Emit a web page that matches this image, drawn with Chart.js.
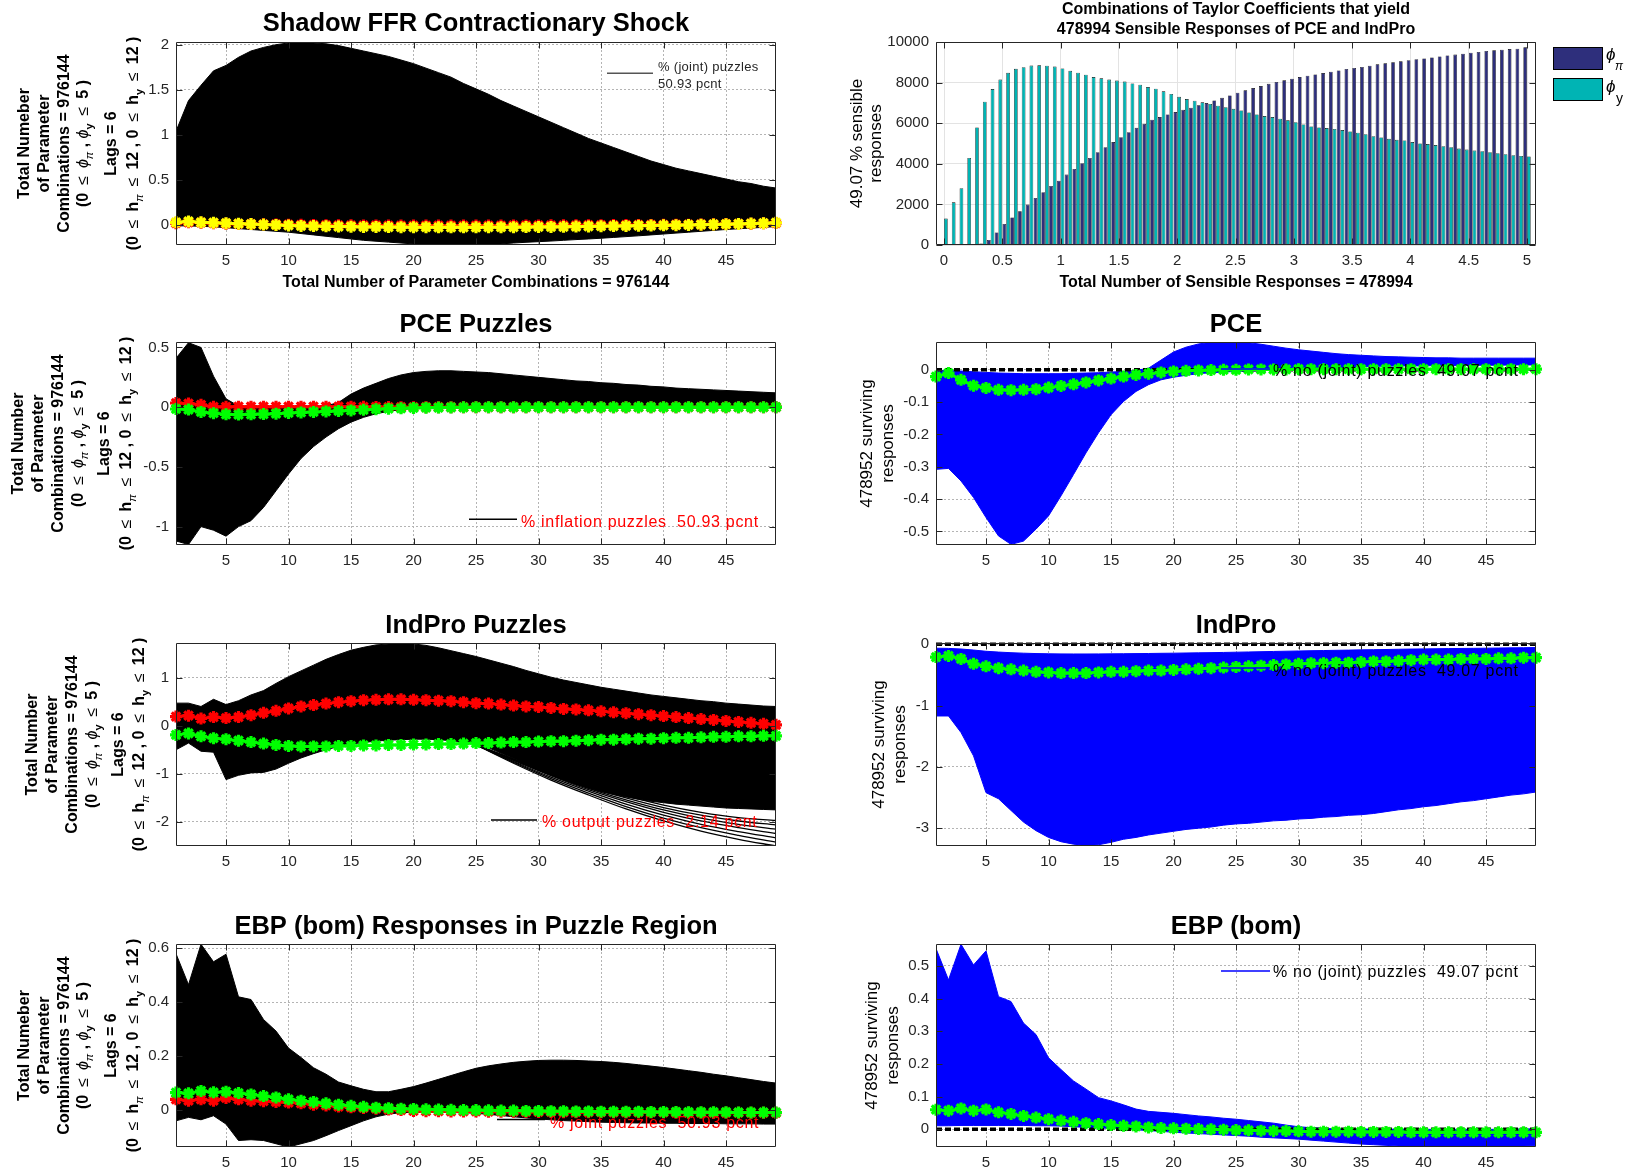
<!DOCTYPE html>
<html>
<head>
<meta charset="utf-8">
<script src="https://cdn.jsdelivr.net/npm/chart.js@4.4.1/dist/chart.umd.min.js"></script>
<style>
  html, body { margin: 0; padding: 0; background: #fff; }
  body { width: 1627px; height: 1176px; position: relative; overflow: hidden; }
  canvas { position: absolute; }
</style>
</head>
<body>
<script>
// ---------- horizons and tick labels ----------
const horizon = Array.from({ length: 49 }, (_, i) => i + 1);
const horizonTicks = [5, 10, 15, 20, 25, 30, 35, 40, 45];
const phiGrid = Array.from({ length: 76 }, (_, i) => i / 15);
const phiTicks = [0, 0.5, 1, 1.5, 2, 2.5, 3, 3.5, 4, 4.5, 5];

// ---------- Shadow FFR contractionary shock ----------
const ffrUpper = [1.04,1.38,1.55,1.71,1.77,1.86,1.93,1.97,2.00,2.02,2.03,2.02,2.01,1.99,1.96,1.93,1.90,1.87,1.83,1.79,1.74,1.69,1.64,1.57,1.51,1.45,1.38,1.32,1.26,1.20,1.14,1.08,1.02,0.96,0.91,0.86,0.81,0.76,0.71,0.67,0.63,0.60,0.57,0.54,0.51,0.48,0.46,0.43,0.41];
const ffrLower = [-0.01,-0.01,-0.015,-0.02,-0.03,-0.04,-0.05,-0.06,-0.07,-0.08,-0.095,-0.11,-0.125,-0.14,-0.155,-0.17,-0.18,-0.19,-0.2,-0.21,-0.215,-0.22,-0.222,-0.222,-0.22,-0.215,-0.21,-0.2,-0.192,-0.185,-0.178,-0.17,-0.162,-0.155,-0.147,-0.138,-0.129,-0.12,-0.11,-0.1,-0.09,-0.08,-0.07,-0.06,-0.05,-0.042,-0.034,-0.026,-0.018];
const ffrRed = [0.02,0.03,0.025,0.02,0.015,0.012,0.01,0.008,0.006,0.004,0.002,0,-0.002,-0.003,-0.004,-0.005,-0.005,-0.006,-0.006,-0.006,-0.006,-0.006,-0.006,-0.006,-0.006,-0.006,-0.006,-0.005,-0.005,-0.005,-0.004,-0.004,-0.003,-0.002,-0.002,-0.001,0,0,0.001,0.002,0.003,0.004,0.006,0.008,0.01,0.012,0.015,0.018,0.022];
const ffrYellow = [0.03,0.04,0.03,0.025,0.02,0.015,0.01,0.005,0,-0.005,-0.01,-0.012,-0.015,-0.017,-0.019,-0.021,-0.022,-0.023,-0.024,-0.025,-0.025,-0.026,-0.026,-0.026,-0.026,-0.025,-0.025,-0.024,-0.023,-0.022,-0.021,-0.02,-0.018,-0.016,-0.014,-0.012,-0.01,-0.008,-0.006,-0.004,-0.002,0,0.003,0.006,0.009,0.012,0.016,0.02,0.025];
const ffrYTicks = [0, 0.5, 1, 1.5, 2];

// ---------- PCE responses in the puzzle region ----------
const pcePzUpper = [0.41,0.54,0.50,0.26,0.07,0.01,0.005,0.005,0.005,0.005,0.005,0.005,0.01,0.04,0.11,0.16,0.20,0.24,0.27,0.29,0.30,0.305,0.305,0.30,0.295,0.29,0.28,0.27,0.26,0.25,0.24,0.23,0.22,0.215,0.205,0.2,0.19,0.185,0.175,0.17,0.16,0.155,0.15,0.145,0.14,0.135,0.13,0.125,0.12];
const pcePzLower = [-1.12,-1.15,-1.0,-1.03,-1.08,-1.0,-0.95,-0.84,-0.70,-0.56,-0.43,-0.33,-0.25,-0.18,-0.125,-0.085,-0.055,-0.035,-0.02,-0.01,-0.008,-0.007,-0.007,-0.006,-0.006,-0.006,-0.006,-0.005,-0.005,-0.005,-0.005,-0.005,-0.005,-0.005,-0.005,-0.005,-0.005,-0.005,-0.005,-0.005,-0.005,-0.005,-0.005,-0.005,-0.005,-0.005,-0.005,-0.005,-0.005];
const pcePzRed = [0.035,0.03,0.02,0.003,0.003,0.004,0.004,0.004,0.004,0.004,0.004,0.004,0.004,0.004,0.004,0.003,0.002,0.001,0,0,0,0,0,0,0,0,0,0,0,0,0,0,0,0,0,0,0,0,0,0,0,0,0,0,0,0,0,0,0];
const pcePzGreen = [-0.015,-0.02,-0.04,-0.05,-0.06,-0.062,-0.06,-0.058,-0.054,-0.048,-0.044,-0.04,-0.035,-0.031,-0.027,-0.022,-0.017,-0.012,-0.009,-0.006,-0.004,-0.003,-0.002,-0.001,0,0,0,0,0,0,0,0,0,0,0,0,0,0,0,0,0,0,0,0,0,0,0,0,0];
const pcePzYTicks = [-1, -0.5, 0, 0.5];

// ---------- IndPro responses in the puzzle region ----------
const ipPzUpper = [0.47,0.47,0.40,0.55,0.44,0.52,0.64,0.73,0.88,1.02,1.14,1.26,1.38,1.48,1.57,1.63,1.68,1.70,1.71,1.70,1.67,1.62,1.56,1.50,1.44,1.37,1.30,1.23,1.15,1.08,1.01,0.95,0.90,0.85,0.80,0.76,0.72,0.68,0.64,0.61,0.58,0.55,0.52,0.50,0.47,0.45,0.43,0.41,0.40];
const ipPzLower = [-0.50,-0.36,-0.53,-0.55,-1.12,-1.03,-0.98,-0.97,-0.90,-0.78,-0.67,-0.58,-0.50,-0.43,-0.38,-0.35,-0.32,-0.30,-0.29,-0.28,-0.28,-0.29,-0.31,-0.34,-0.38,-0.46,-0.57,-0.68,-0.80,-0.92,-1.03,-1.13,-1.22,-1.30,-1.37,-1.43,-1.48,-1.53,-1.57,-1.60,-1.63,-1.65,-1.67,-1.69,-1.71,-1.72,-1.73,-1.74,-1.75];
const ipFanX = [25, 28, 31, 34, 37, 40, 43, 46, 49];
const ipFan1 = [-0.40,-0.78,-1.13,-1.44,-1.73,-1.98,-2.19,-2.36,-2.50];
const ipFan2 = [-0.40,-0.76,-1.10,-1.40,-1.68,-1.92,-2.12,-2.28,-2.42];
const ipFan3 = [-0.40,-0.74,-1.07,-1.36,-1.63,-1.86,-2.05,-2.20,-2.33];
const ipFan4 = [-0.40,-0.72,-1.04,-1.33,-1.58,-1.80,-1.98,-2.12,-2.24];
const ipFan5 = [-0.40,-0.71,-1.02,-1.30,-1.54,-1.75,-1.92,-2.05,-2.15];
const ipFan6 = [-0.39,-0.70,-1.00,-1.27,-1.50,-1.70,-1.86,-1.98,-2.06];
const ipFan7 = [-0.39,-0.69,-0.98,-1.24,-1.46,-1.65,-1.80,-1.91,-1.97];
const ipPzRed = [0.19,0.21,0.15,0.18,0.16,0.18,0.22,0.27,0.31,0.36,0.40,0.43,0.46,0.49,0.51,0.53,0.54,0.55,0.55,0.54,0.53,0.52,0.51,0.49,0.47,0.46,0.44,0.42,0.40,0.39,0.37,0.35,0.34,0.32,0.30,0.28,0.26,0.24,0.22,0.20,0.18,0.16,0.14,0.12,0.10,0.08,0.06,0.04,0.02];
const ipPzGreen = [-0.19,-0.16,-0.22,-0.26,-0.28,-0.31,-0.34,-0.37,-0.40,-0.42,-0.43,-0.43,-0.43,-0.42,-0.42,-0.41,-0.41,-0.40,-0.40,-0.39,-0.39,-0.38,-0.38,-0.37,-0.36,-0.36,-0.35,-0.34,-0.34,-0.33,-0.32,-0.32,-0.31,-0.30,-0.29,-0.29,-0.28,-0.27,-0.27,-0.26,-0.25,-0.25,-0.24,-0.23,-0.23,-0.22,-0.22,-0.21,-0.21];
const ipPzYTicks = [-2, -1, 0, 1];

// ---------- EBP (bom) responses in the puzzle region ----------
const ebpPzUpper = [0.58,0.465,0.615,0.55,0.578,0.42,0.41,0.336,0.293,0.23,0.195,0.157,0.133,0.104,0.09,0.077,0.068,0.068,0.077,0.087,0.10,0.114,0.128,0.142,0.155,0.164,0.171,0.177,0.181,0.184,0.185,0.185,0.184,0.182,0.18,0.177,0.173,0.168,0.163,0.158,0.152,0.146,0.14,0.133,0.127,0.12,0.113,0.106,0.10];
const ebpPzLower = [-0.04,-0.027,-0.036,-0.021,-0.052,-0.113,-0.11,-0.113,-0.125,-0.137,-0.125,-0.113,-0.095,-0.076,-0.058,-0.04,-0.025,-0.015,-0.01,-0.008,-0.008,-0.008,-0.009,-0.01,-0.012,-0.016,-0.02,-0.025,-0.029,-0.033,-0.036,-0.039,-0.041,-0.043,-0.045,-0.046,-0.047,-0.048,-0.048,-0.049,-0.049,-0.05,-0.05,-0.05,-0.051,-0.051,-0.051,-0.052,-0.052];
const ebpPzRed = [0.04,0.035,0.04,0.035,0.045,0.04,0.035,0.033,0.03,0.028,0.025,0.02,0.017,0.013,0.01,0.008,0.005,0.002,0,-0.003,-0.004,-0.004,-0.005,-0.005,-0.005,-0.006,-0.006,-0.006,-0.007,-0.007,-0.007,-0.008,-0.008,-0.008,-0.008,-0.009,-0.009,-0.009,-0.009,-0.009,-0.01,-0.01,-0.01,-0.01,-0.01,-0.01,-0.01,-0.01,-0.01];
const ebpPzGreen = [0.065,0.062,0.071,0.066,0.068,0.063,0.058,0.052,0.047,0.04,0.035,0.03,0.025,0.02,0.016,0.012,0.009,0.007,0.005,0.004,0.003,0.002,0.001,0,0,-0.001,-0.002,-0.002,-0.003,-0.003,-0.004,-0.004,-0.005,-0.005,-0.006,-0.006,-0.006,-0.006,-0.007,-0.007,-0.007,-0.008,-0.008,-0.008,-0.008,-0.009,-0.009,-0.009,-0.009];
const ebpPzYTicks = [0, 0.2, 0.4, 0.6];

// ---------- Taylor coefficient counts ----------
const countPhiPi = [0,0,0,0,0,80,250,620,1040,1360,1660,1990,2320,2600,2910,3170,3470,3750,4030,4290,4570,4820,5070,5310,5560,5770,5970,6170,6300,6430,6550,6660,6760,6880,6990,7120,7250,7370,7500,7620,7730,7830,7940,8030,8110,8190,8270,8340,8400,8470,8540,8600,8670,8720,8770,8830,8900,8950,9000,9050,9100,9150,9190,9240,9290,9340,9380,9420,9470,9510,9560,9590,9620,9650,9670,9740];
const countPhiY = [1300,2100,2800,4290,5790,7060,7680,8150,8480,8680,8760,8840,8850,8830,8790,8700,8580,8490,8390,8270,8210,8150,8100,8050,7960,7900,7780,7700,7570,7440,7300,7190,7110,7030,6950,6860,6790,6710,6630,6530,6430,6350,6300,6220,6140,6050,5940,5840,5790,5760,5720,5660,5590,5530,5460,5360,5300,5230,5180,5150,5070,5000,4970,4920,4870,4820,4750,4700,4650,4620,4570,4520,4470,4420,4390,4360];
const countYTicks = [0, 2000, 4000, 6000, 8000, 10000];

// ---------- surviving (sensible) responses ----------
const pceUpper = [-0.002,-0.002,-0.004,-0.006,-0.008,-0.01,-0.011,-0.012,-0.012,-0.012,-0.012,-0.011,-0.01,-0.009,-0.007,-0.005,-0.002,0.005,0.03,0.055,0.07,0.08,0.085,0.087,0.087,0.084,0.079,0.073,0.067,0.062,0.058,0.054,0.05,0.047,0.045,0.043,0.041,0.04,0.039,0.038,0.037,0.037,0.036,0.036,0.036,0.036,0.036,0.036,0.036];
const pceLower = [-0.308,-0.305,-0.344,-0.395,-0.457,-0.514,-0.54,-0.53,-0.493,-0.452,-0.39,-0.324,-0.257,-0.195,-0.139,-0.098,-0.067,-0.046,-0.031,-0.023,-0.017,-0.012,-0.009,-0.007,-0.005,-0.004,-0.002,-0.001,0.001,0.002,0.003,0.005,0.006,0.008,0.01,0.011,0.011,0.012,0.012,0.012,0.013,0.013,0.013,0.014,0.014,0.014,0.015,0.015,0.015];
const pceGreen = [-0.021,-0.01,-0.031,-0.049,-0.056,-0.062,-0.063,-0.062,-0.06,-0.055,-0.05,-0.045,-0.039,-0.033,-0.027,-0.021,-0.016,-0.012,-0.008,-0.005,-0.003,-0.002,-0.001,0,0,0.001,0.001,0.001,0.001,0.002,0.002,0.002,0.002,0.002,0.002,0.002,0.002,0.002,0.002,0.002,0.002,0.002,0.002,0.002,0.002,0.002,0.002,0.002,0.002];
const pceYTicks = [-0.5, -0.4, -0.3, -0.2, -0.1, 0];

const ipUpper = [-0.065,-0.068,-0.078,-0.095,-0.115,-0.128,-0.138,-0.146,-0.152,-0.156,-0.158,-0.159,-0.159,-0.158,-0.157,-0.155,-0.153,-0.151,-0.148,-0.146,-0.143,-0.14,-0.137,-0.134,-0.13,-0.126,-0.122,-0.118,-0.114,-0.11,-0.106,-0.103,-0.099,-0.096,-0.092,-0.089,-0.086,-0.082,-0.079,-0.076,-0.074,-0.071,-0.069,-0.067,-0.065,-0.062,-0.059,-0.057,-0.054];
const ipLower = [-1.17,-1.17,-1.44,-1.82,-2.42,-2.52,-2.71,-2.90,-3.04,-3.15,-3.22,-3.26,-3.28,-3.27,-3.23,-3.18,-3.15,-3.11,-3.08,-3.05,-3.02,-3.0,-2.98,-2.95,-2.93,-2.92,-2.9,-2.88,-2.87,-2.85,-2.84,-2.82,-2.81,-2.79,-2.78,-2.76,-2.73,-2.7,-2.68,-2.65,-2.63,-2.6,-2.57,-2.55,-2.52,-2.49,-2.46,-2.44,-2.41];
const ipGreen = [-0.21,-0.19,-0.24,-0.32,-0.36,-0.39,-0.41,-0.43,-0.45,-0.46,-0.47,-0.47,-0.47,-0.46,-0.45,-0.45,-0.44,-0.43,-0.43,-0.42,-0.41,-0.4,-0.39,-0.38,-0.37,-0.36,-0.35,-0.34,-0.33,-0.32,-0.31,-0.31,-0.3,-0.3,-0.29,-0.28,-0.28,-0.27,-0.26,-0.25,-0.25,-0.25,-0.24,-0.24,-0.24,-0.23,-0.23,-0.22,-0.22];
const ipYTicks = [-3, -2, -1, 0];

const ebpUpper = [0.553,0.457,0.566,0.503,0.546,0.406,0.391,0.325,0.29,0.219,0.183,0.148,0.123,0.097,0.087,0.075,0.062,0.055,0.052,0.049,0.045,0.041,0.038,0.034,0.031,0.027,0.023,0.019,0.013,0.008,0.005,0.003,0.002,0.001,0.001,0.001,0.001,0,0,0,0,0,0,0,0,0,0.001,0.001,0.002];
const ebpLower = [0.011,0.011,0.012,0.012,0.012,0.012,0.012,0.012,0.011,0.011,0.01,0.008,0.006,0.004,0.003,0.001,-0.001,-0.004,-0.006,-0.009,-0.011,-0.013,-0.015,-0.017,-0.019,-0.021,-0.024,-0.026,-0.028,-0.03,-0.033,-0.036,-0.039,-0.042,-0.045,-0.047,-0.049,-0.051,-0.052,-0.053,-0.054,-0.054,-0.054,-0.054,-0.054,-0.053,-0.052,-0.051,-0.05];
const ebpGreen = [0.06,0.057,0.064,0.057,0.061,0.052,0.047,0.041,0.036,0.031,0.027,0.023,0.019,0.016,0.013,0.011,0.009,0.006,0.004,0.003,0.002,0.001,0,-0.001,-0.002,-0.003,-0.004,-0.005,-0.005,-0.006,-0.007,-0.007,-0.007,-0.007,-0.008,-0.008,-0.008,-0.008,-0.009,-0.009,-0.009,-0.009,-0.009,-0.009,-0.009,-0.009,-0.009,-0.009,-0.009];
const ebpYTicks = [0, 0.1, 0.2, 0.3, 0.4, 0.5];

const zeroLine = horizon.map(() => 0);

// ---------- labels ----------
const ylabNumeber = ['Total Numeber', 'of Parameter', 'Combinations = 976144', '(0 ≤ ϕ_{π} , ϕ_{y} ≤ 5 )', 'Lags = 6', '(0 ≤ h_{π} ≤ 12 , 0 ≤ h_{y} ≤ 12 )'];
const ylabNumber = ['Total Number', 'of Parameter', 'Combinations = 976144', '(0 ≤ ϕ_{π} , ϕ_{y} ≤ 5 )', 'Lags = 6', '(0 ≤ h_{π} ≤ 12 , 0 ≤ h_{y} ≤ 12 )'];
const ylabSurviving = ['478952 surviving', 'responses'];

// ---------- drawing helpers ----------
const FONT = "'Liberation Sans', Arial, Helvetica, sans-serif";
const TICK_FONT = { family: FONT, size: 15 };

function pts(xArr, yArr) { return yArr.map((y, i) => ({ x: xArr[i], y })); }

// split a label into runs: subscripts written as _{..}, relation signs get extra room
function segments(str, size, bold) {
  const out = [];
  const push = (t, sub) => {
    for (const ch of t) {
      const special = /[≤ϕπ]/.test(ch);
      const fs = sub ? Math.round(size * 0.68) : size;
      const style = (ch === 'ϕ' || ch === 'π') ? 'italic ' : '';
      const weight = special ? '400' : (bold ? '700' : '400');
      const font = `${style}${weight} ${fs}px ${FONT}`;
      const pad = ch === '≤' ? size * 0.22 : 0;
      const prev = out[out.length - 1];
      if (!pad && prev && !prev.pad && prev.font === font && prev.sub === sub) prev.t += ch;
      else out.push({ t: ch, font, sub, pad });
    }
  };
  const re = /_\{([^}]*)\}/g;
  let last = 0, m;
  while ((m = re.exec(str))) { push(str.slice(last, m.index), false); push(m[1], true); last = re.lastIndex; }
  push(str.slice(last), false);
  return out;
}

function drawRich(ctx, it) {
  const segs = segments(it.t, it.size, it.bold);
  ctx.save();
  ctx.translate(it.x, it.y);
  if (it.rot) ctx.rotate(it.rot);
  ctx.fillStyle = it.color || '#000';
  ctx.textBaseline = 'alphabetic';
  ctx.textAlign = 'left';
  if ('letterSpacing' in ctx) ctx.letterSpacing = (it.spacing || 0) + 'px';
  let w = 0;
  for (const g of segs) { ctx.font = g.font; g.w = ctx.measureText(g.t).width + 2 * g.pad; w += g.w; }
  let cx = it.align === 'left' ? 0 : -w / 2;
  const base = it.middle ? it.size * 0.36 : 0;
  for (const g of segs) {
    ctx.font = g.font;
    ctx.fillText(g.t, cx + g.pad, base + (g.sub ? it.size * 0.3 : 0));
    cx += g.w;
  }
  ctx.restore();
}

function drawItem(ctx, it) {
  if (it.kind === 'line') {
    ctx.save();
    ctx.strokeStyle = it.color; ctx.lineWidth = it.w || 1.5;
    ctx.beginPath(); ctx.moveTo(it.x1, it.y); ctx.lineTo(it.x2, it.y); ctx.stroke();
    ctx.restore();
  } else if (it.kind === 'rect') {
    ctx.save();
    ctx.fillStyle = it.fill; ctx.fillRect(it.x, it.y, it.w, it.h);
    ctx.strokeStyle = '#000'; ctx.lineWidth = 1; ctx.strokeRect(it.x + 0.5, it.y + 0.5, it.w - 1, it.h - 1);
    ctx.restore();
  } else {
    drawRich(ctx, it);
  }
}

// axis box, inward ticks, titles, labels and legends
const DECOR = {};
const decoPlugin = {
  id: 'deco',
  afterDraw(chart) {
    const spec = DECOR[chart.canvas.id];
    if (!spec) return;
    const ctx = chart.ctx, a = chart.chartArea;
    ctx.save();
    ctx.strokeStyle = '#262626';
    ctx.lineWidth = 1;
    const L = Math.round(a.left) + 0.5, R = Math.round(a.right) - 0.5;
    const T = Math.round(a.top) + 0.5, B = Math.round(a.bottom) - 0.5;
    ctx.beginPath();
    ctx.rect(L, T, R - L, B - T);
    for (const t of chart.scales.x.ticks) {
      const px = Math.round(chart.scales.x.getPixelForValue(t.value)) + 0.5;
      ctx.moveTo(px, B); ctx.lineTo(px, B - 6);
      ctx.moveTo(px, T); ctx.lineTo(px, T + 6);
    }
    for (const t of chart.scales.y.ticks) {
      const py = Math.round(chart.scales.y.getPixelForValue(t.value)) + 0.5;
      ctx.moveTo(L, py); ctx.lineTo(L + 6, py);
      ctx.moveTo(R, py); ctx.lineTo(R - 6, py);
    }
    ctx.stroke();
    ctx.translate(-spec.ox, -spec.oy);
    for (const it of spec.items) drawItem(ctx, it);
    ctx.restore();
  }
};

// ---------- layout ----------
const COLS = [{ ox: 0, w: 800, left: 176, right: 776 }, { ox: 800, w: 827, left: 936, right: 1536 }];
const ROWS = [{ oy: 0, h: 300, top: 42 }, { oy: 300, h: 300, top: 342 }, { oy: 600, h: 300, top: 643 }, { oy: 900, h: 276, top: 944 }];
const PLOT_H = 203, YAXIS_W = 50, XAXIS_H = 29;

function scaleCfg(axis, min, max, ticks, gridStyle) {
  return {
    type: 'linear', min, max, offset: false,
    afterBuildTicks: s => { s.ticks = ticks.map(v => ({ value: v })); },
    afterFit: s => { if (axis === 'x') s.height = XAXIS_H; else s.width = YAXIS_W; },
    ticks: {
      autoSkip: false, maxRotation: 0, minRotation: 0, padding: 7,
      color: '#262626', font: TICK_FONT,
      callback: v => String(+(+v).toFixed(4))
    },
    grid: { color: gridStyle.color, lineWidth: 1, drawTicks: false, offset: false },
    border: { display: false, dash: gridStyle.dash }
  };
}

const DOTTED = { color: '#b4b4b4', dash: [2, 2] };
const SOLID = { color: '#e3e3e3', dash: [] };

function makeChart(id, col, row, type, datasets, xr, xTicks, yr, yTicks, grid, items, extra) {
  const c = COLS[col], r = ROWS[row];
  const cv = document.createElement('canvas');
  cv.id = id;
  cv.width = c.w; cv.height = r.h;
  cv.style.left = c.ox + 'px'; cv.style.top = r.oy + 'px';
  cv.style.width = c.w + 'px'; cv.style.height = r.h + 'px';
  document.body.appendChild(cv);
  DECOR[id] = { ox: c.ox, oy: r.oy, items };
  const padTop = r.top - r.oy;
  return new Chart(cv, {
    type,
    data: { datasets },
    plugins: [decoPlugin],
    options: Object.assign({
      responsive: false, animation: false, devicePixelRatio: 1,
      layout: { padding: { left: c.left - c.ox - YAXIS_W, right: c.ox + c.w - c.right, top: padTop, bottom: r.h - padTop - PLOT_H - XAXIS_H } },
      plugins: { legend: { display: false }, title: { display: false }, tooltip: { enabled: false } },
      scales: {
        x: scaleCfg('x', xr[0], xr[1], xTicks, grid),
        y: scaleCfg('y', yr[0], yr[1], yTicks, grid)
      }
    }, extra || {})
  });
}

// datasets
function band(upper, lower, color, order) {
  return [
    { data: pts(horizon, upper), borderColor: color, backgroundColor: color, borderWidth: 1, pointRadius: 0, fill: false, order, tension: 0 },
    { data: pts(horizon, lower), borderColor: color, backgroundColor: color, borderWidth: 1, pointRadius: 0, fill: '-1', order, tension: 0 }
  ];
}
function markers(y, color, order) {
  return { data: pts(horizon, y), borderColor: color, backgroundColor: color, borderWidth: 3,
    pointStyle: 'star', pointRadius: 6, pointBorderWidth: 3.2, pointBorderColor: color,
    fill: false, order, clip: 10, tension: 0 };
}
function zeroDashed(order) {
  return { data: pts(horizon, zeroLine), borderColor: '#000', borderWidth: 3.5, borderDash: [6, 3],
    pointRadius: 0, fill: false, order, clip: 4 };
}
function fanLine(y) {
  return { data: pts(ipFanX, y), borderColor: '#000', borderWidth: 1.3, pointRadius: 0, fill: false, order: 8, tension: 0.35 };
}

// text item builders (page coordinates)
function title(t, x, y, size) { return { t, x, y, size: size || 25.5, bold: true, color: '#000' }; }
function vlabels(lines, xs, y, size, bold, spacing) {
  return lines.map((t, i) => ({ t, x: xs[i], y, size, bold, rot: -Math.PI / 2, middle: true, color: '#000', spacing: spacing || 0 }));
}
function legendLine(x1, x2, y, color) { return { kind: 'line', x1, x2, y, color, w: 1.5 }; }
function legendText(t, x, y, color, size, spacing) { return { t, x, y, size: size || 16, align: 'left', color, spacing: spacing === undefined ? 0.7 : spacing }; }

const LCX = 476, RCX = 1236;
const ROWC = ROWS.map(r => r.top + PLOT_H / 2);

// ---- left column ----
makeChart('ffr', 0, 0, 'line',
  [markers(ffrYellow, '#ffff00', 1), markers(ffrRed, '#ff0000', 2), ...band(ffrUpper, ffrLower, '#000', 10)],
  [1, 49], horizonTicks, [-0.222, 2.03], ffrYTicks, DOTTED,
  [title('Shadow FFR Contractionary Shock', LCX, 30.5),
   { t: 'Total Number of Parameter Combinations = 976144', x: LCX, y: 287, size: 16, bold: true, color: '#000' },
   ...vlabels(ylabNumeber, [23, 43, 63, 82, 110, 132], ROWC[0], 16, true),
   legendLine(607, 653, 73.3, '#555'),
   legendText('% (joint) puzzles', 658, 71, '#262626', 13, 0.3),
   legendText('50.93 pcnt', 658, 87.5, '#262626', 13, 0.3)]);

makeChart('pcepz', 0, 1, 'line',
  [markers(pcePzGreen, '#00ff00', 1), markers(pcePzRed, '#ff0000', 2), ...band(pcePzUpper, pcePzLower, '#000', 10)],
  [1, 49], horizonTicks, [-1.154, 0.546], pcePzYTicks, DOTTED,
  [title('PCE Puzzles', LCX, 331.5),
   ...vlabels(ylabNumber, [17, 37, 57, 77, 103, 125], ROWC[1], 16, true),
   legendLine(469, 517, 519.3, '#000'),
   legendText('% inflation puzzles  50.93 pcnt', 521, 526.7, '#ff0000')]);

makeChart('ippz', 0, 2, 'line',
  [markers(ipPzGreen, '#00ff00', 1), markers(ipPzRed, '#ff0000', 2),
   fanLine(ipFan1), fanLine(ipFan2), fanLine(ipFan3), fanLine(ipFan4), fanLine(ipFan5), fanLine(ipFan6), fanLine(ipFan7),
   ...band(ipPzUpper, ipPzLower, '#000', 10)],
  [1, 49], horizonTicks, [-2.5, 1.72], ipPzYTicks, DOTTED,
  [title('IndPro Puzzles', LCX, 633),
   ...vlabels(ylabNumber, [31, 51, 71, 91, 117, 138], ROWC[2], 16, true),
   legendLine(491, 537, 820, '#000'),
   legendText('% output puzzles  2.14 pcnt', 542, 826.7, '#ff0000')]);

makeChart('ebppz', 0, 3, 'line',
  [markers(ebpPzGreen, '#00ff00', 1), markers(ebpPzRed, '#ff0000', 2), ...band(ebpPzUpper, ebpPzLower, '#000', 10)],
  [1, 49], horizonTicks, [-0.137, 0.616], ebpPzYTicks, DOTTED,
  [title('EBP (bom) Responses in Puzzle Region', LCX, 934),
   ...vlabels(ylabNumeber, [23, 43, 63, 82, 110, 132], ROWC[3], 16, true),
   legendLine(497, 545, 1119.5, '#000'),
   legendText('% joint puzzles  50.93 pcnt', 550, 1127.7, '#ff0000')]);

// ---- right column ----
makeChart('taylor', 1, 0, 'bar',
  [
    { label: 'phi_pi', data: pts(phiGrid, countPhiPi), backgroundColor: '#2e2f7c', borderColor: '#000', borderWidth: 0.6, barPercentage: 1.0, categoryPercentage: 0.95 },
    { label: 'phi_y', data: pts(phiGrid, countPhiY), backgroundColor: '#00b4b4', borderColor: '#000', borderWidth: 0.6, barPercentage: 1.0, categoryPercentage: 0.95 }
  ],
  [-0.069, 5.077], phiTicks, [0, 10000], countYTicks, SOLID,
  [title('Combinations of Taylor Coefficients that yield', RCX, 14, 16),
   title('478994 Sensible Responses of PCE and IndPro', RCX, 34, 16),
   { t: 'Total Number of Sensible Responses = 478994', x: RCX, y: 287, size: 16, bold: true, color: '#000' },
   ...vlabels(['49.07 % sensible', 'responses'], [856, 875], ROWC[0], 17, false),
   { kind: 'rect', x: 1553, y: 47, w: 50, h: 23, fill: '#2e2f7c' },
   { kind: 'rect', x: 1553, y: 78, w: 50, h: 23, fill: '#00b4b4' },
   { t: 'ϕ', x: 1606, y: 60, size: 17, align: 'left', color: '#000' },
   { t: 'π', x: 1615, y: 70, size: 12, align: 'left', color: '#000' },
   { t: 'ϕ', x: 1606, y: 92, size: 17, align: 'left', color: '#000' },
   { t: 'y', x: 1616, y: 103, size: 14, align: 'left', color: '#000' }],
  { datasets: { bar: { grouped: true } } });

makeChart('pce', 1, 1, 'line',
  [markers(pceGreen, '#00ff00', 1), zeroDashed(5), ...band(pceUpper, pceLower, '#0000ff', 10)],
  [1, 49], horizonTicks, [-0.542, 0.086], pceYTicks, DOTTED,
  [title('PCE', RCX, 331.5),
   ...vlabels(ylabSurviving, [866, 887], ROWC[1], 17, false),
   legendLine(1221, 1270, 369, '#0000ff'),
   legendText('% no (joint) puzzles  49.07 pcnt', 1273, 375.5, '#000')]);

makeChart('ip', 1, 2, 'line',
  [markers(ipGreen, '#00ff00', 1), zeroDashed(5), ...band(ipUpper, ipLower, '#0000ff', 10)],
  [1, 49], horizonTicks, [-3.29, 0.02], ipYTicks, DOTTED,
  [title('IndPro', RCX, 633.3),
   ...vlabels(ylabSurviving, [878, 899], ROWC[2], 17, false),
   legendLine(1221, 1270, 668, '#0000ff'),
   legendText('% no (joint) puzzles  49.07 pcnt', 1273, 676, '#000')]);

makeChart('ebp', 1, 3, 'line',
  [markers(ebpGreen, '#00ff00', 1), zeroDashed(5), ...band(ebpUpper, ebpLower, '#0000ff', 10)],
  [1, 49], horizonTicks, [-0.054, 0.567], ebpYTicks, DOTTED,
  [title('EBP (bom)', RCX, 933.5),
   ...vlabels(ylabSurviving, [871, 892], ROWC[3], 17, false),
   legendLine(1221, 1270, 971, '#0000ff'),
   legendText('% no (joint) puzzles  49.07 pcnt', 1273, 977.3, '#000')]);
</script>
</body>
</html>
